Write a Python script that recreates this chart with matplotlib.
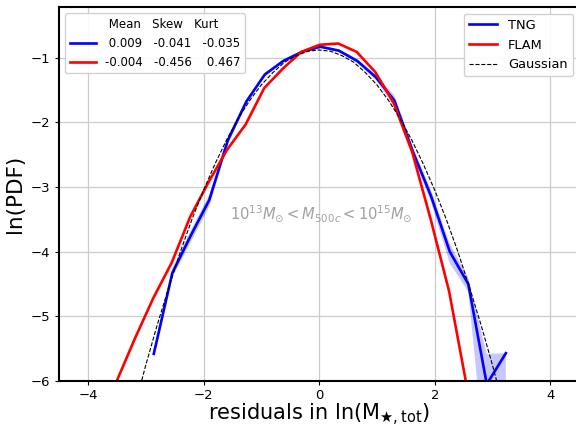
import matplotlib
matplotlib.use("Agg")
import matplotlib.pyplot as plt
from matplotlib.lines import Line2D

# ---- data ----
tng_x = [-2.86, -2.54, -2.22, -1.90, -1.58, -1.26, -0.94, -0.62, -0.30, 0.02,
         0.34, 0.66, 0.98, 1.30, 1.62, 1.94, 2.26, 2.58, 2.90, 3.23]
tng_y = [-5.58, -4.33, -3.75, -3.20, -2.28, -1.68, -1.26, -1.05, -0.91, -0.83,
         -0.89, -1.05, -1.30, -1.66, -2.45, -3.15, -4.00, -4.50, -6.05, -5.57]
tng_lo = [-5.64, -4.40, -3.85, -3.30, -2.34, -1.72, -1.29, -1.07, -0.93, -0.85,
          -0.91, -1.08, -1.34, -1.76, -2.52, -3.25, -4.18, -4.62, -7.50, -7.50]
tng_hi = [-5.52, -4.26, -3.67, -3.12, -2.22, -1.64, -1.23, -1.03, -0.89, -0.81,
          -0.87, -1.02, -1.26, -1.58, -2.38, -3.06, -3.88, -4.40, -5.58, -5.57]

flam_x = [-3.51, -3.19, -2.87, -2.55, -2.23, -1.91, -1.59, -1.27, -0.95, -0.63,
          -0.31, 0.01, 0.33, 0.65, 0.97, 1.29, 1.61, 1.93, 2.25, 2.57]
flam_y = [-6.02, -5.35, -4.72, -4.17, -3.46, -2.92, -2.42, -2.03, -1.47, -1.17,
          -0.91, -0.80, -0.78, -0.91, -1.22, -1.70, -2.46, -3.50, -4.62, -6.16]

gauss_x = [-3.2, -3.0, -2.8, -2.6, -2.4, -2.2, -2.0, -1.8, -1.6, -1.4, -1.2, -1.0,
           -0.8, -0.6, -0.4, -0.2, 0.0, 0.2, 0.4, 0.6, 0.8, 1.0, 1.2, 1.4, 1.6,
           1.8, 2.0, 2.2, 2.4, 2.6, 2.8, 3.0, 3.2]
gauss_y = [-6.43, -5.76, -5.13, -4.55, -4.00, -3.50, -3.05, -2.64, -2.27, -1.94,
           -1.66, -1.42, -1.23, -1.07, -0.97, -0.90, -0.88, -0.90, -0.97, -1.07,
           -1.23, -1.42, -1.66, -1.94, -2.27, -2.64, -3.05, -3.50, -4.00, -4.55,
           -5.13, -5.76, -6.43]

stats_header = ["Mean", "Skew", "Kurt"]
tng_stats = [0.009, -0.041, -0.035]
flam_stats = [-0.004, -0.456, 0.467]

xticks = [-4, -2, 0, 2, 4]
yticks = [-6, -5, -4, -3, -2, -1]

# ---- figure ----
fig = plt.figure(figsize=(5.76, 4.30), dpi=100)
ax = fig.add_axes([0.1024, 0.114, 0.9033, 0.869])

ax.fill_between(tng_x, tng_lo, tng_hi, color="blue", alpha=0.22, lw=0)
ax.plot(tng_x, tng_y, color="blue", lw=1.9, label="TNG")
ax.plot(flam_x, flam_y, color="red", lw=1.9, label="FLAM")
ax.plot(gauss_x, gauss_y, color="black", lw=0.8, ls="--", label="Gaussian")

ax.set_xlim(-4.5, 4.5)
ax.set_ylim(-6, -0.22)
ax.set_xticks(xticks)
ax.set_yticks(yticks)
ax.tick_params(labelsize=9.5, length=3)
ax.tick_params(axis="x", pad=2.5)
ax.grid(True, color="#cccccc", lw=0.9)
ax.set_axisbelow(True)
for s in ["left", "top", "bottom", "right"]:
    ax.spines[s].set_linewidth(1.5)

ax.set_xlabel(r"residuals in ln(M$_{\bigstar,\mathrm{tot}}$)", fontsize=15, labelpad=0)
ax.set_ylabel("ln(PDF)", fontsize=15.5, labelpad=4)

ax.text(0.04, -3.41, r"$10^{13}M_{\odot} < M_{500c} < 10^{15}M_{\odot}$",
        color="#a0a0a0", fontsize=10.5, ha="center", va="center")

# right legend
leg2 = ax.legend(loc="upper right", fontsize=9.4, handlelength=2.2, framealpha=0.9)
ax.add_artist(leg2)

# left stats legend
def fmt(v):
    return f"{v:6.3f}"

h0 = Line2D([], [], color="none")
h1 = Line2D([], [], color="blue", lw=1.9)
h2 = Line2D([], [], color="red", lw=1.9)
labels = [
    " " + "   ".join(stats_header),
    "   ".join(fmt(v) for v in tng_stats),
    "   ".join(fmt(v) for v in flam_stats),
]
ax.legend([h0, h1, h2], labels, loc="upper left", fontsize=8.5,
          handlelength=2.2, framealpha=0.9)

fig.savefig("out.png", dpi=100)
